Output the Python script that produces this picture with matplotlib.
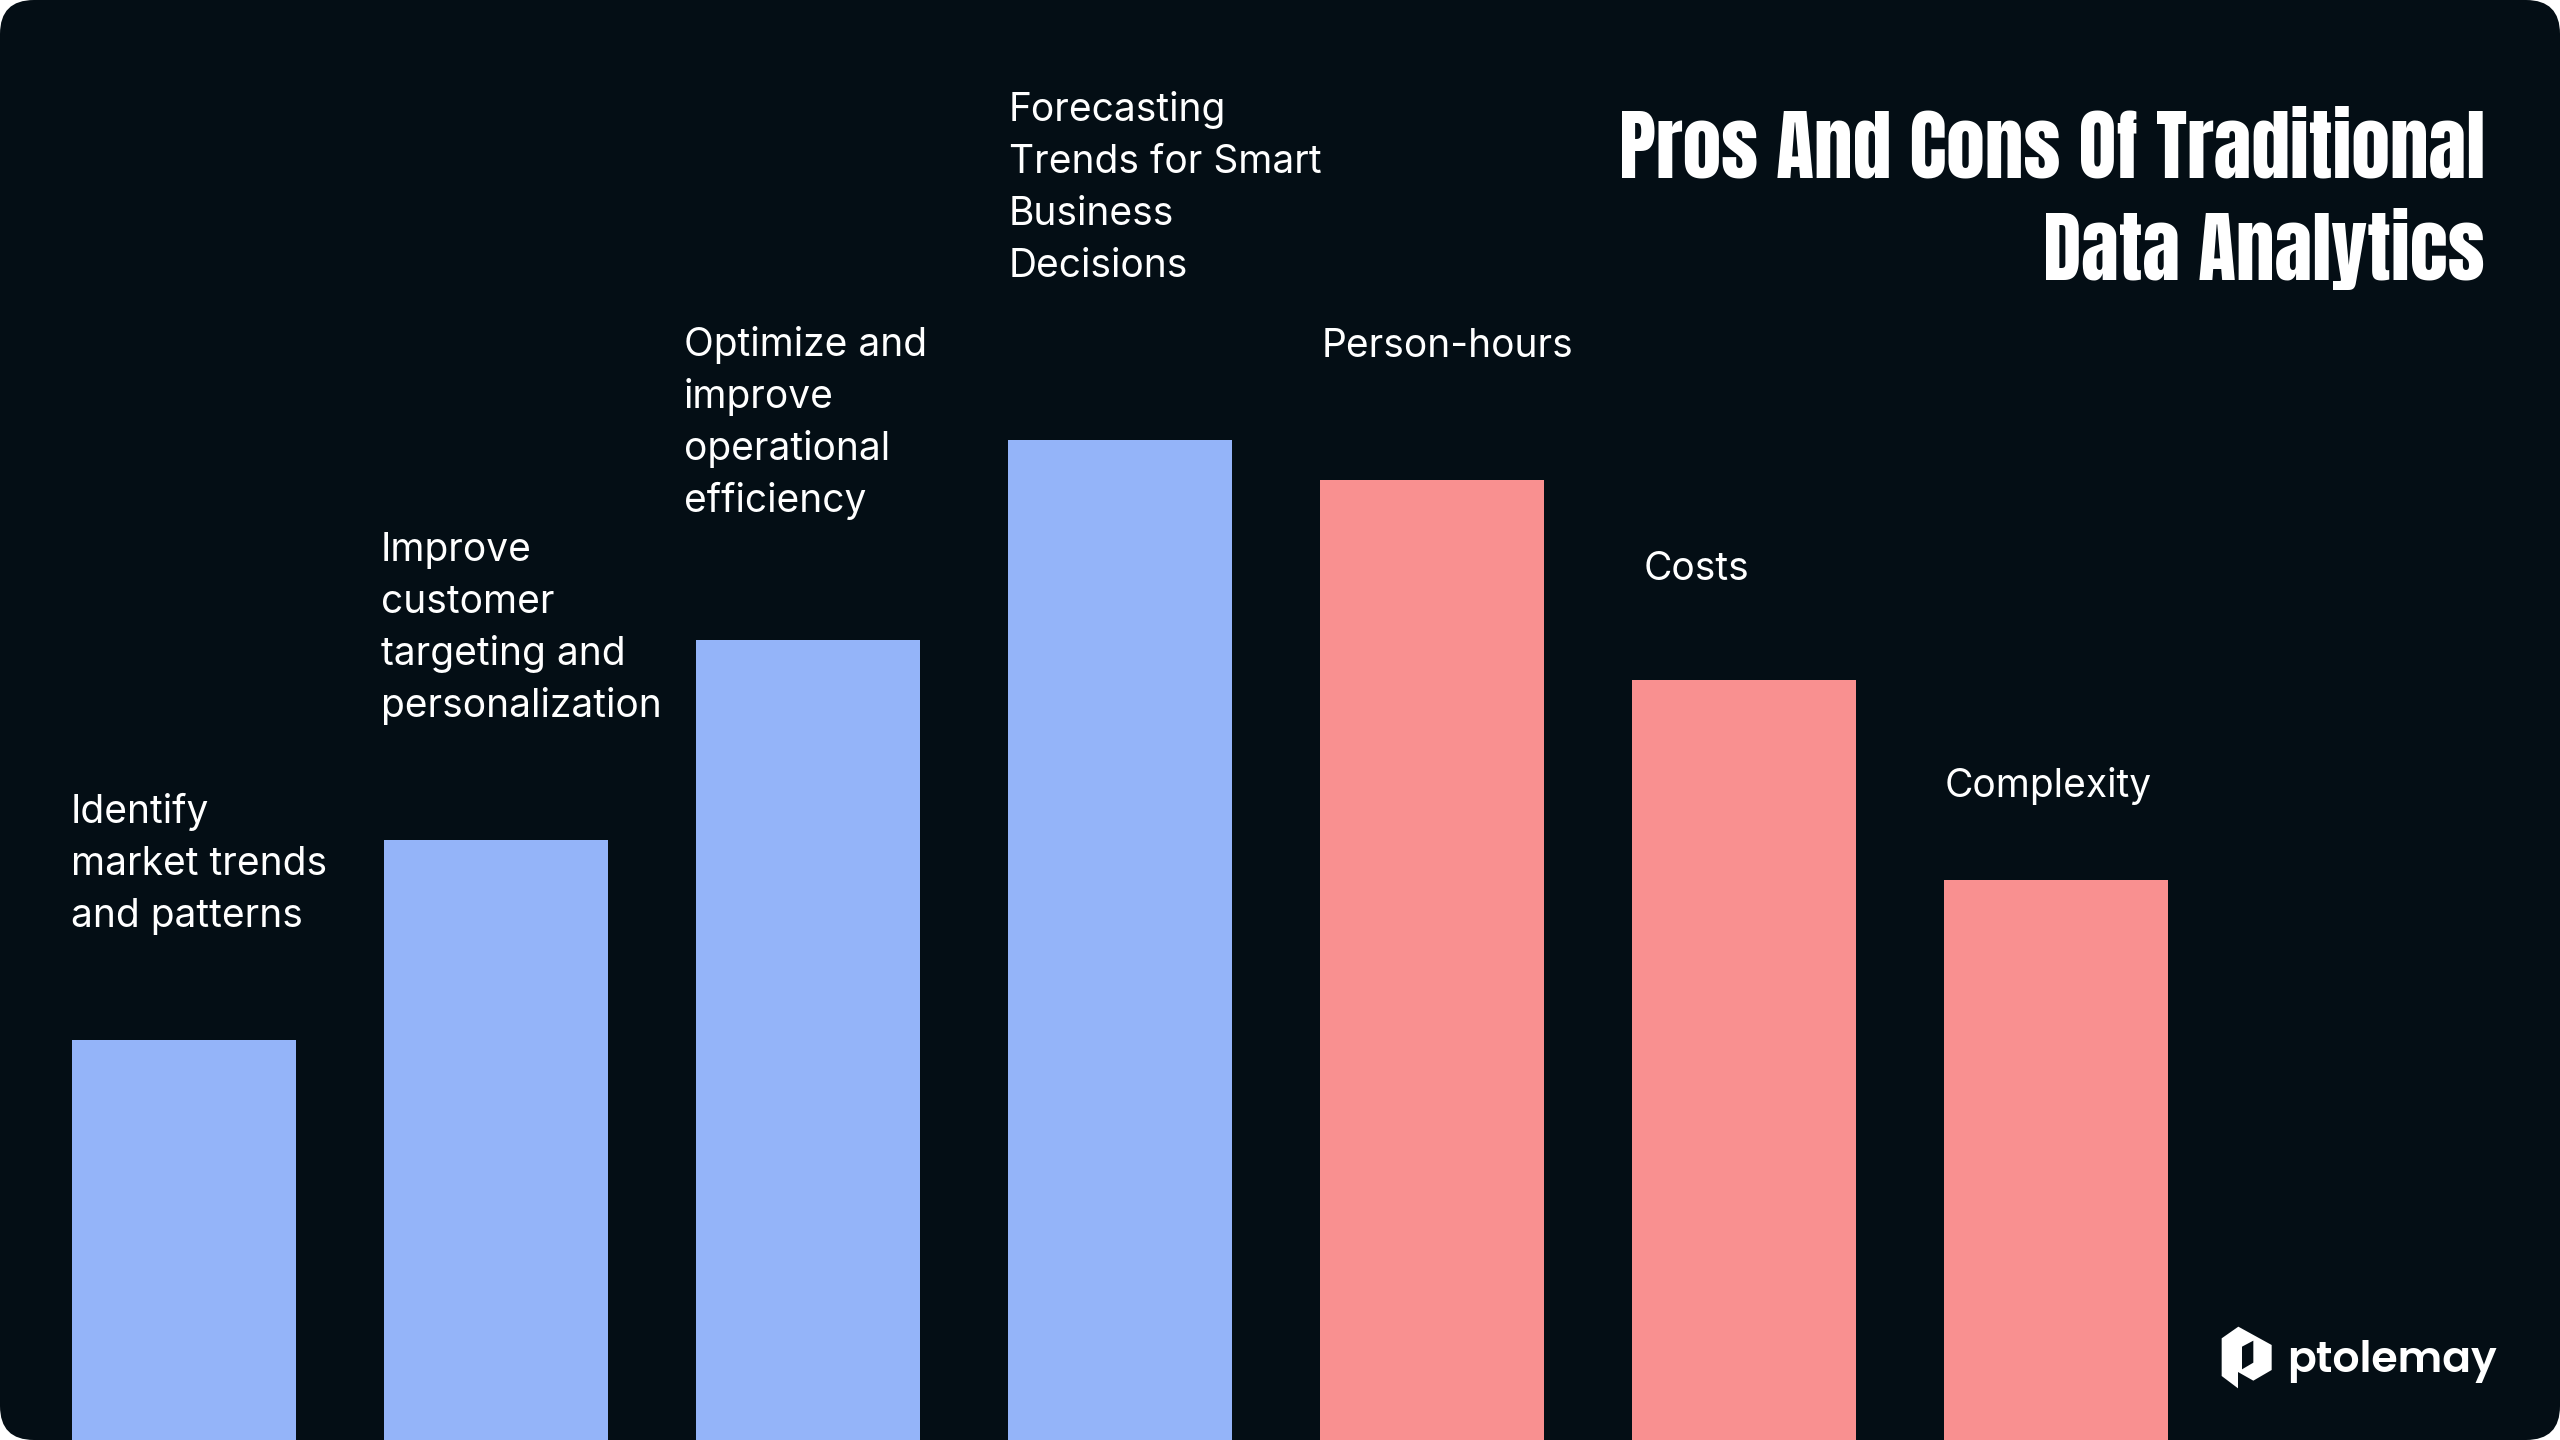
import matplotlib
matplotlib.use("Agg")
import matplotlib.pyplot as plt
from matplotlib import font_manager as fm
from matplotlib.patches import FancyBboxPatch, Polygon
from matplotlib.transforms import Affine2D

# ---------------- data ----------------
categories = [
    "Identify\nmarket trends\nand patterns",
    "Improve\ncustomer\ntargeting and\npersonalization",
    "Optimize and\nimprove\noperational\nefficiency",
    "Forecasting\nTrends for Smart\nBusiness\nDecisions",
    "Person-hours",
    "Costs",
    "Complexity",
]
values = [2.0, 3.0, 4.0, 5.0, 4.8, 3.8, 2.8]
kinds = ["pro", "pro", "pro", "pro", "con", "con", "con"]
title_lines = ["Pros And Cons Of Traditional", "Data Analytics"]
brand = "ptolemay"

# ---------------- style ----------------
W, H = 2560, 1440
BG = "#040E15"
COLORS = {"pro": "#94B4F9", "con": "#F99090"}


def first_font(cands):
    for c in cands:
        try:
            fm.findfont(fm.FontProperties(family=c), fallback_to_default=False)
            return c
        except Exception:
            continue
    return "DejaVu Sans"


LABEL_FONT = [first_font(["Inter", "Noto Sans"]), "DejaVu Sans"]
TITLE_NAME = first_font(["Anton", "League Gothic", "Oswald", "Fjalla One",
                         "Antonio", "Barlow Condensed", "Roboto Condensed",
                         "Archivo Narrow", "IBM Plex Sans Condensed"])
TITLE_FONT = [TITLE_NAME, "DejaVu Sans"]
TITLE_WEIGHT = "normal" if TITLE_NAME in ("Anton", "League Gothic", "Fjalla One") else "bold"
BRAND_NAME = first_font(["Poppins", "Lato"])
BRAND_FONT = [BRAND_NAME, "DejaVu Sans"]

fig = plt.figure(figsize=(W / 100, H / 100), dpi=100)
fig.patch.set_facecolor("white")
px = Affine2D().scale(1 / W, -1 / H).translate(0, 1) + fig.transFigure

bg = FancyBboxPatch((0, 0), W, H, boxstyle="round,pad=0,rounding_size=34",
                    transform=px, facecolor=BG, edgecolor="none", zorder=-5)
fig.add_artist(bg)

ax = fig.add_axes([0, 0, 1, 1])
ax.set_facecolor("none")
ax.axis("off")
step = 312.0
first_center = 184.0
bar_w = 224.0 / step
ax.set_xlim(-first_center / step, (W - first_center) / step)
ax.set_ylim(0, H / 200.0)

xs = list(range(len(values)))
ax.bar(xs, values, width=bar_w, color=[COLORS[k] for k in kinds],
       edgecolor="none", zorder=2)

# labels above bars (baseline gap of last line, horizontal nudge, in pixels)
gaps = [113, 123, 128, 163, 123, 100, 83]
nudges = [-1, -3, -12, 1, 2, 12, 1]
line_h = 52
for i, (lab, v) in enumerate(zip(categories, values)):
    lines = lab.split("\n")
    n = len(lines)
    for k, line in enumerate(lines):
        ax.annotate(line, xy=(i - bar_w / 2, v),
                    xytext=(nudges[i], gaps[i] + (n - 1 - k) * line_h),
                    textcoords="offset pixels", ha="left", va="baseline",
                    fontsize=28, family=LABEL_FONT, color="white", zorder=3)

renderer = fig.canvas.get_renderer()

# title, right aligned; size fitted to the reference line width (867 px)
titles = []
for k, line in enumerate(title_lines):
    t = fig.text(2485, 178 + k * 102, line, transform=px, ha="right",
                 va="baseline", fontsize=56, fontweight=TITLE_WEIGHT,
                 family=TITLE_FONT, color="white")
    titles.append(t)
w0 = titles[0].get_window_extent(renderer).width
fs = 56 * 867.0 / w0
fs = min(fs, 64)
for t in titles:
    t.set_fontsize(fs)

# brand logo
def P(zx, zy):
    return (2210 + zx / 3.0, 1320 + zy / 3.0)

sil = [P(35, 55), P(85, 20), P(185, 75), P(185, 150), P(130, 182),
       P(84, 156), P(84, 205), P(35, 168)]
notch = [P(96, 80), P(130, 62), P(130, 128), P(96, 148)]
fig.add_artist(Polygon(sil, closed=True, transform=px, facecolor="white",
                       edgecolor="none", zorder=5))
fig.add_artist(Polygon(notch, closed=True, transform=px, facecolor=BG,
                       edgecolor="none", zorder=6))
bt = fig.text(2287, 1372, brand, transform=px, ha="left", va="baseline",
              fontsize=36, fontweight="semibold", family=BRAND_FONT,
              color="white")
bw = bt.get_window_extent(renderer).width
bt.set_fontsize(36 * 210.0 / bw)

fig.savefig("out.png", dpi=100, facecolor=fig.get_facecolor())
